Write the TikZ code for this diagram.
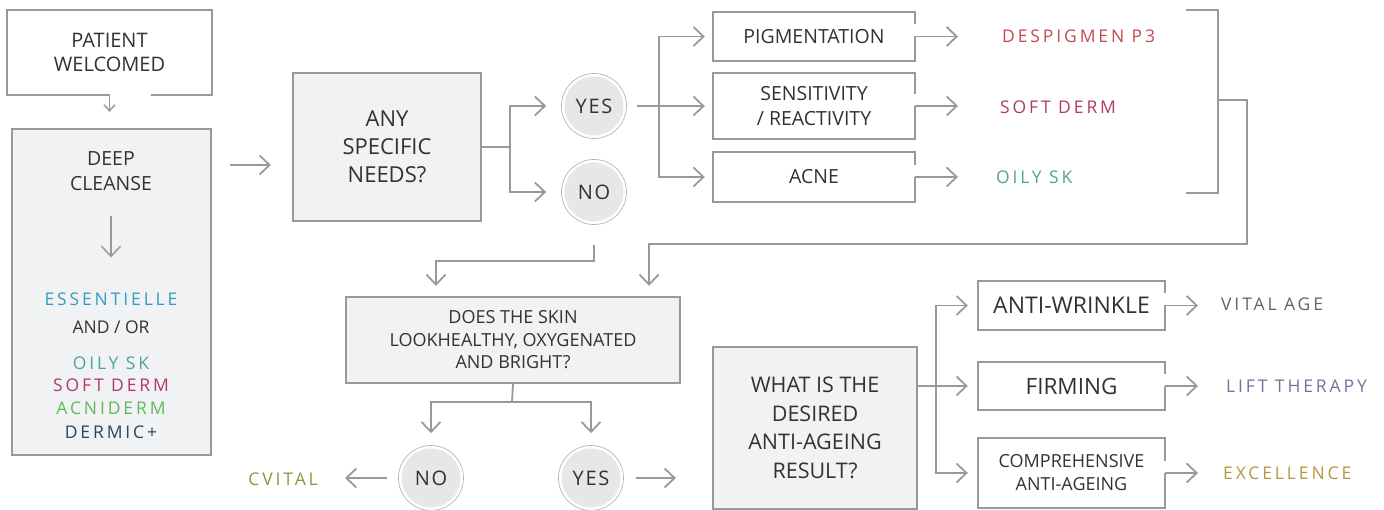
\documentclass[tikz,border=0pt]{standalone}
\usepackage{fontspec}
\setmainfont{Open Sans}
\newfontfamily\spaced[LetterSpace=16.5]{Open Sans}
\newfontfamily\ynfont[LetterSpace=9]{Open Sans}
\usetikzlibrary{calc}
\usetikzlibrary{arrows.meta}
\definecolor{linegray}{RGB}{152,153,156}
\definecolor{boxfill}{RGB}{241,242,244}
\definecolor{ringgray}{RGB}{180,180,183}
\definecolor{discfill}{RGB}{230,231,232}
\definecolor{ink}{RGB}{50,50,52}
\definecolor{essblue}{RGB}{52,155,196}
\definecolor{oilyteal}{RGB}{74,166,150}
\definecolor{softmag}{RGB}{176,56,106}
\definecolor{acnigreen}{RGB}{94,186,86}
\definecolor{dermnavy}{RGB}{38,70,96}
\definecolor{despred}{RGB}{200,72,80}
\definecolor{cvolive}{RGB}{140,150,60}
\definecolor{vitalgray}{RGB}{100,100,104}
\definecolor{liftpurple}{RGB}{120,112,155}
\definecolor{excelgold}{RGB}{183,150,65}
\tikzstyle{conn} = [draw=linegray, line width=1.8pt]
\tikzstyle{arrow} = [conn, -{Straight Barb[length=10pt,width=19pt]}]
\tikzstyle{qbox} = [rectangle, draw=linegray, line width=2.2pt, fill=boxfill,
align=center, inner sep=0pt]
\tikzstyle{obox} = [rectangle, align=center, inner sep=0pt]
\tikzstyle{answer} = [circle, minimum size=65pt, draw=ringgray, line width=0.7pt,
fill=white, inner sep=0pt, font=\ynfont\fontsize{20}{24}\selectfont,
path picture={\fill[discfill] (path picture bounding box.center) circle (29.5pt);}]
\tikzstyle{product} = [inner sep=0pt, font=\spaced\fontsize{17.5}{21}\selectfont]
\newcommand{\gapright}[1]{\draw[conn, line width=2.2pt] ([yshift=12pt]#1.east)
  |- (#1.north west) |- (#1.south east) -- (#1.east);}

\begin{document}
\begin{tikzpicture}[x=1pt, y=-1pt, every node/.style={text=ink}]
    \useasboundingbox (0,0) rectangle (1384,510);

    % first column
    \node[obox, minimum width=205pt, minimum height=85pt, font=\fontsize{20}{24}\selectfont]
        (welcome) at (109.5,52.5) {PATIENT\\WELCOMED};
    \node[qbox, minimum width=199pt, minimum height=326pt] (cleanse) at (111.5,292) {};
    \node[obox, font=\fontsize{19.5}{25}\selectfont] (deep) at (111,171.5) {DEEP\\CLEANSE};
    \node[obox, font=\fontsize{17.5}{22.5}\selectfont] (prods) at (111,365.5)
        {{\spaced\color{essblue}ESSENTIELLE}\\[5.5pt]
         AND / OR\\[13.5pt]
         {\spaced\color{oilyteal}OILY SK}\\
         {\spaced\color{softmag}SOFT DERM}\\
         {\spaced\color{acnigreen}ACNIDERM}\\[1.5pt]
         {\spaced\color{dermnavy}DERMIC+}};

    % specific needs
    \node[qbox, minimum width=188pt, minimum height=148pt, font=\fontsize{22}{28}\selectfont]
        (needs) at (387,147) {ANY\\SPECIFIC\\NEEDS?};
    \node[answer] (yes1) at (594,106) {YES};
    \node[answer] (no1) at (594,192) {NO};

    \node[obox, minimum width=202pt, minimum height=49pt, font=\fontsize{19.5}{24}\selectfont]
        (pig) at (814,36.5) {PIGMENTATION};
    \node[obox, minimum width=202pt, minimum height=66pt, font=\fontsize{19.5}{25}\selectfont]
        (sens) at (814,106) {SENSITIVITY\\/ REACTIVITY};
    \node[obox, minimum width=202pt, minimum height=50pt, font=\fontsize{19.5}{24}\selectfont]
        (acne) at (814,177) {ACNE};

    \node[product, anchor=west, text=despred] (despig) at (1002,36) {DESPIGMEN P3};
    \node[product, anchor=west, text=softmag] (soft) at (1000,107) {SOFT DERM};
    \node[product, anchor=west, text=oilyteal] (oilyr) at (996,177) {OILY SK};

    % skin check
    \node[qbox, minimum width=334pt, minimum height=86pt, font=\fontsize{18}{22.5}\selectfont]
        (does) at (513,340) {DOES THE SKIN\\LOOKHEALTHY, OXYGENATED\\AND BRIGHT?};
    \node[answer] (no2) at (431,478) {NO};
    \node[answer] (yes2) at (591,478) {YES};
    \node[product, anchor=east, text=cvolive] (cvital) at (318,479) {CVITAL};

    % anti-ageing
    \node[qbox, minimum width=204pt, minimum height=162pt, font=\fontsize{21.5}{28.5}\selectfont]
        (what) at (815,428) {WHAT IS THE\\DESIRED\\ANTI-AGEING\\RESULT?};
    \node[obox, minimum width=187pt, minimum height=49pt, font=\fontsize{23}{28}\selectfont]
        (wrinkle) at (1071.5,305.5) {ANTI-WRINKLE};
    \node[obox, minimum width=187pt, minimum height=48pt, font=\fontsize{22.5}{28}\selectfont]
        (firm) at (1071.5,386) {FIRMING};
    \node[obox, minimum width=187pt, minimum height=70pt, font=\fontsize{18}{23}\selectfont]
        (comp) at (1071.5,473) {COMPREHENSIVE\\ANTI-AGEING};

    \node[product, anchor=west, text=vitalgray] (vital) at (1221,304) {VITAL AGE};
    \node[product, anchor=west, text=liftpurple] (lift) at (1226,386) {LIFT THERAPY};
    \node[product, anchor=west, text=excelgold] (excel) at (1223,473) {EXCELLENCE};

    % outlines with a gap
    \draw[conn, line width=2.2pt] (welcome.south) -| (welcome.north west)
        -| (welcome.south east) -- ([xshift=41pt]welcome.south);
    \foreach \b in {pig,sens,acne,wrinkle,firm,comp} {\gapright{\b}}

    \coordinate (link) at (230,165);
    \coordinate (needsfork) at (510,147);
    \coordinate (fork1) at (659,106);
    \coordinate (brk) at (1218,100);
    \coordinate (ret) at (1247,244);
    \coordinate (nodrop) at (594,261);
    \coordinate (split) at (512,402);
    \coordinate (fork2) at (936,386);

    % connectors
    \draw[arrow, line width=1.5pt, -{Straight Barb[length=6pt,width=11pt]}, shorten >=16pt]
        (welcome.south) -- (welcome.south |- cleanse.north);
    \draw[arrow, line width=1.5pt, shorten <=25pt, shorten >=35pt] (deep.south) -- (prods.north);
    \draw[arrow, shorten >=21pt] (link) -- (link -| needs.west);

    \draw[conn] (needs.east) -- (needsfork);
    \draw[arrow, shorten >=15pt] (needsfork) |- (yes1.west);
    \draw[arrow, shorten >=15pt] (needsfork) |- (no1.west);

    \draw[arrow, shorten <=10pt, shorten >=8pt] (yes1.east) -- (sens.west);
    \draw[arrow, shorten >=8pt] (fork1) |- (pig.west);
    \draw[arrow, shorten >=8pt] (fork1) |- (acne.west);
    \foreach \c/\p/\s in {pig/despig/44, sens/soft/42, acne/oilyr/38}
        {\draw[arrow, shorten >=\s pt] (\c.east) -- (\c.east -| \p.west);}

    \draw[conn] (1186,10) -| (1218,193) -- (1186,193);
    \draw[arrow, shorten >=10pt] (brk) -| (ret) -| ([xshift=-32pt]does.north east);
    \draw[arrow, shorten <=20pt, shorten >=10pt] (no1.south) -- (nodrop)
        -| ([xshift=91pt]does.north west);

    \draw[conn] (does.south) -- (split);
    \draw[arrow, shorten >=12pt] (split) -| (no2.north);
    \draw[arrow, shorten >=12pt] (split) -| (yes2.north);
    \draw[arrow, shorten <=11pt, shorten >=27pt] (no2.west) -- (no2.west -| cvital.east);
    \draw[arrow, shorten <=12pt, shorten >=36pt] (yes2.east) -- (yes2.east -| what.west);

    \draw[arrow, shorten >=10pt] (what.east |- fork2) -- (firm.west);
    \draw[arrow, shorten >=10pt] (fork2) |- (wrinkle.west);
    \draw[arrow, shorten >=10pt] (fork2) |- (comp.west);
    \foreach \c/\p/\s in {wrinkle/vital/23, firm/lift/28, comp/excel/25}
        {\draw[arrow, shorten >=\s pt] (\c.east) -- (\c.east -| \p.west);}
\end{tikzpicture}
\end{document}
